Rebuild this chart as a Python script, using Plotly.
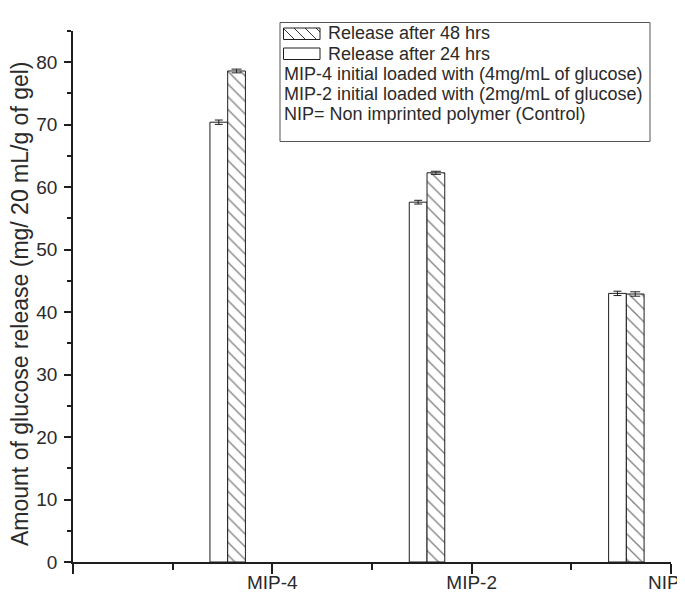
import plotly.graph_objects as go

# ---- data ----
categories = ["MIP-4", "MIP-2", "NIP"]
cat_pos = [1, 2, 3]
release_24h = [70.4, 57.6, 43.0]
release_24h_err = [0.35, 0.3, 0.35]
release_48h = [78.6, 62.3, 42.9]
release_48h_err = [0.3, 0.25, 0.35]
x_tick_vals = [0, 1, 2, 3]
# last category label is drawn as an annotation so it is not clipped at the right edge
x_tick_text = ["", categories[0], categories[1], ""]
legend_lines = [
    "Release after 48 hrs",
    "Release after 24 hrs",
    "MIP-4 initial loaded with (4mg/mL of glucose)",
    "MIP-2 initial loaded with (2mg/mL of glucose)",
    "NIP= Non imprinted polymer (Control)",
]

# the page body has an 8px margin: work in screen pixels, then shift
OFF = 8
W, H = 685 - OFF, 596 - OFF
L, R, T, B = 73 - OFF, 671 - OFF, 31 - OFF, 562 - OFF
FONT = "Liberation Sans, Arial, sans-serif"
TXT = "#2a2a2a"
AX = "#1e1e1e"


def px(x):
    return (x - OFF - L) / (R - L)


def py(y):
    return (B - (y - OFF)) / (B - T)


fig = go.Figure()

fig.add_trace(go.Bar(
    x=cat_pos, y=release_24h, offset=-0.313, width=0.089,
    marker=dict(color="white", line=dict(color=AX, width=1)),
    error_y=dict(type="data", array=release_24h_err, color=AX, thickness=1, width=4),
    name="Release after 24 hrs",
))
fig.add_trace(go.Bar(
    x=cat_pos, y=release_48h, offset=-0.224, width=0.089,
    marker=dict(color="white", line=dict(color=AX, width=1),
                pattern=dict(shape="\\", size=9, solidity=0.15, fgcolor="#000", bgcolor="white")),
    error_y=dict(type="data", array=release_48h_err, color=AX, thickness=1, width=5),
    name="Release after 48 hrs",
))

shapes = []
# legend box
shapes.append(dict(type="rect", xref="paper", yref="paper",
                   x0=px(280), x1=px(650), y0=py(22.5), y1=py(141.5),
                   line=dict(color="#555", width=1), fillcolor="rgba(0,0,0,0)"))
# swatches
sw_x0, sw_x1 = 283.5, 320
for (y0, y1) in [(28, 39.5), (48, 59.5)]:
    shapes.append(dict(type="rect", xref="paper", yref="paper",
                       x0=px(sw_x0), x1=px(sw_x1), y0=py(y0), y1=py(y1),
                       line=dict(color=AX, width=1), fillcolor="white"))
# hatch for first swatch ("\" lines)
y0, y1 = 28, 39.5
hgt = y1 - y0
path = ""
c = sw_x0 - hgt
while c < sw_x1:
    xa, ya = c, y0
    xb, yb = c + hgt, y1
    if xa < sw_x0:
        ya = y0 + (sw_x0 - xa)
        xa = sw_x0
    if xb > sw_x1:
        yb = y1 - (xb - sw_x1)
        xb = sw_x1
    if xb > xa:
        path += f"M{px(xa)},{py(ya)} L{px(xb)},{py(yb)} "
    c += 11
shapes.append(dict(type="path", xref="paper", yref="paper", path=path,
                   line=dict(color=AX, width=0.9)))

annotations = []
line_y = [33, 54, 74, 94, 114]
for i, (txt, yy) in enumerate(zip(legend_lines, line_y)):
    xx = 326 if i < 2 else 282
    annotations.append(dict(xref="paper", yref="paper", x=px(xx), y=py(yy),
                            xanchor="left", yanchor="middle", text=txt, showarrow=False,
                            font=dict(family=FONT, size=18, color=TXT)))
# y axis title
annotations.append(dict(xref="paper", yref="paper", x=px(20), y=py(304),
                        xanchor="center", yanchor="middle", textangle=-90,
                        text="Amount of glucose release (mg/ 20 mL/g of gel)", showarrow=False,
                        font=dict(family=FONT, size=23, color=TXT)))
# last category label at the right edge
annotations.append(dict(xref="paper", yref="paper", x=px(681), y=py(582),
                        xanchor="right", yanchor="middle", text=categories[2], showarrow=False,
                        borderpad=0, font=dict(family=FONT, size=19, color=TXT)))

fig.update_layout(
    width=W, height=H,
    margin=dict(l=L, r=W - R, t=T, b=H - B),
    paper_bgcolor="white", plot_bgcolor="white",
    barmode="overlay", showlegend=False,
    shapes=shapes, annotations=annotations,
    font=dict(family=FONT, size=18, color=TXT),
)
fig.update_xaxes(
    range=[0, 3], tickmode="array", tickvals=x_tick_vals, ticktext=x_tick_text,
    automargin=False, ticklabeloverflow="allow", ticklabelstandoff=-8,
    showgrid=False, zeroline=False, showline=True, linecolor=AX, linewidth=1.5,
    ticks="outside", ticklen=10, tickwidth=1.5, tickcolor=AX,
    tickfont=dict(family=FONT, size=19, color=TXT),
    minor=dict(tickvals=[0.5, 1.5, 2.5], ticks="outside", ticklen=6, tickwidth=1.5, tickcolor=AX),
)
fig.update_yaxes(
    range=[0, 85], dtick=10, tick0=0, automargin=False,
    showgrid=False, zeroline=False, showline=True, linecolor=AX, linewidth=1.5,
    ticks="outside", ticklen=7, tickwidth=1.5, tickcolor=AX, ticklabelstandoff=3,
    tickfont=dict(family=FONT, size=19, color=TXT),
    minor=dict(dtick=5, tick0=0, ticks="outside", ticklen=4, tickwidth=1.5, tickcolor=AX),
)

fig.write_html("out.html")
